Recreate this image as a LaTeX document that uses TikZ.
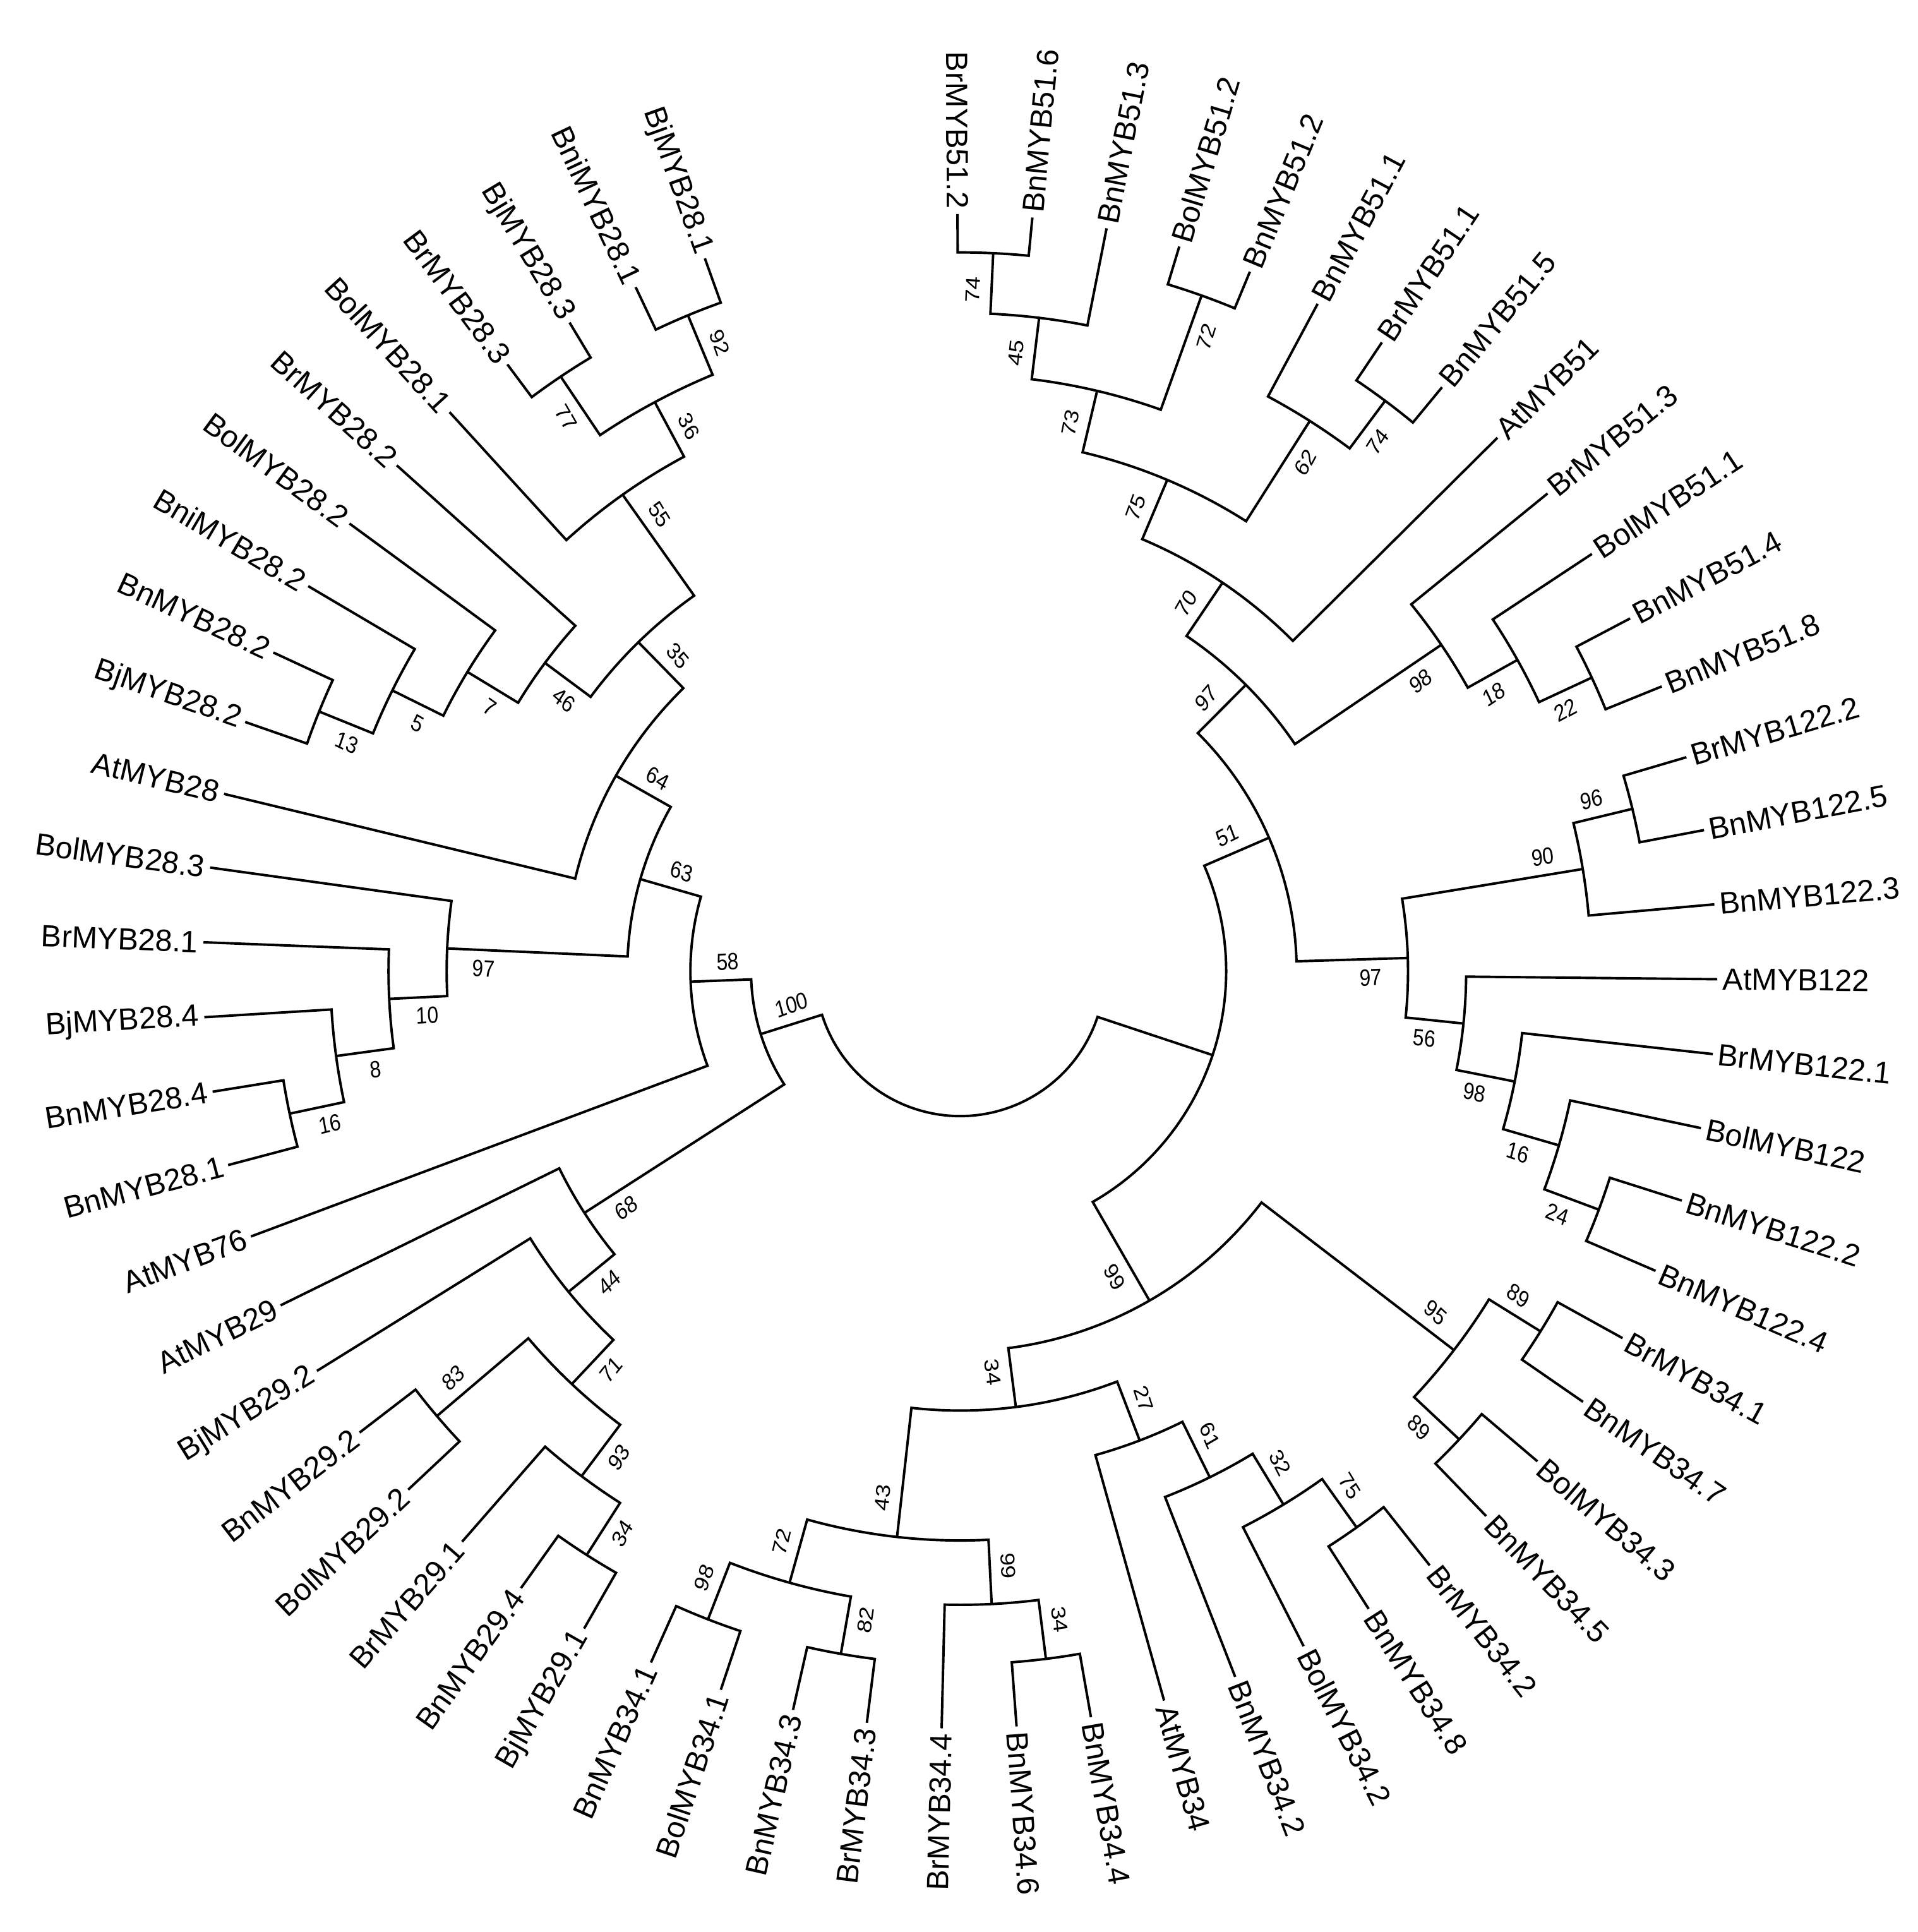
\documentclass[tikz,border=0pt]{standalone}
\usepackage{fontspec}
\setmainfont{Liberation Sans}
\tikzset{
  br/.style={line width=1pt,black},
  leaf/.style={font=\fontsize{12.4}{14}\selectfont,inner sep=2pt},
  bsn/.style={font=\fontsize{9.5}{11}\selectfont,inner sep=0pt,xscale=0.85}
}
\newcommand\lf[2]{%
  \pgfmathsetmacro\ang{90.2-(#1-1)*5.675}%
  \expandafter\xdef\csname Al#1\endcsname{\ang}%
  \expandafter\xdef\csname Rl#1\endcsname{612}%
  \expandafter\xdef\csname Bl#1\endcsname{}%
  \coordinate (l#1) at (\ang:306pt);%
  \pgfmathsetmacro\cosv{cos(\ang)}%
  \ifdim\cosv pt<0pt
    \pgfmathsetmacro\rot{\ang+180}%
    \node[leaf,anchor=east,rotate=\rot] (t#1) at (\ang:306pt) {#2};%
  \else
    \node[leaf,anchor=west,rotate=\ang] (t#1) at (\ang:306pt) {#2};%
  \fi}
\newcommand\bs[2]{%
  \edef\bt{\csname B#1\endcsname}%
  \ifx\bt\empty\else
    \edef\ca{\csname A#1\endcsname}\edef\crr{\csname R#1\endcsname}%
    \pgfmathsetmacro\prr{(\crr-30)*0.5}%
    \pgfmathsetmacro\pa{\ca+#2*15/(\crr-30)*57.2958}%
    \pgfmathsetmacro\cosv{cos(\ca)}%
    \ifdim\cosv pt<0pt \pgfmathsetmacro\rot{\ca+180}\else\pgfmathsetmacro\rot{\ca}\fi
    \node[bsn,rotate=\rot] at (\pa:\prr pt) {\bt};%
  \fi}
\newcommand\nd[5]{%
  \edef\angA{\csname A#2\endcsname}\edef\angB{\csname A#3\endcsname}%
  \pgfmathsetmacro\am{(\angA+\angB)/2}%
  \expandafter\xdef\csname A#1\endcsname{\am}%
  \expandafter\xdef\csname R#1\endcsname{#4}%
  \expandafter\xdef\csname B#1\endcsname{#5}%
  \pgfmathsetmacro\rh{#4*0.5}%
  \coordinate (#1) at (\am:\rh pt);%
  \draw[br] (#2) -- (\angA:\rh pt) arc[start angle=\angA, end angle=\angB, radius=\rh pt] -- (#3);%
  \bs{#2}{1}\bs{#3}{-1}}
\begin{document}
\begin{tikzpicture}
\useasboundingbox (-388pt,-388.2pt) rectangle (387pt,392.5pt);
\lf{1}{BrMYB51.2}\lf{2}{BnMYB51.6}\lf{3}{BnMYB51.3}\lf{4}{BolMYB51.2}
\lf{5}{BnMYB51.2}\lf{6}{BnMYB51.1}\lf{7}{BrMYB51.1}\lf{8}{BnMYB51.5}
\lf{9}{AtMYB51}\lf{10}{BrMYB51.3}\lf{11}{BolMYB51.1}\lf{12}{BnMYB51.4}
\lf{13}{BnMYB51.8}\lf{14}{BrMYB122.2}\lf{15}{BnMYB122.5}\lf{16}{BnMYB122.3}
\lf{17}{AtMYB122}\lf{18}{BrMYB122.1}\lf{19}{BolMYB122}\lf{20}{BnMYB122.2}
\lf{21}{BnMYB122.4}\lf{22}{BrMYB34.1}\lf{23}{BnMYB34.7}\lf{24}{BolMYB34.3}
\lf{25}{BnMYB34.5}\lf{26}{BrMYB34.2}\lf{27}{BnMYB34.8}\lf{28}{BolMYB34.2}
\lf{29}{BnMYB34.2}\lf{30}{AtMYB34}\lf{31}{BnMYB34.4}\lf{32}{BnMYB34.6}
\lf{33}{BrMYB34.4}\lf{34}{BrMYB34.3}\lf{35}{BnMYB34.3}\lf{36}{BolMYB34.1}
\lf{37}{BnMYB34.1}\lf{38}{BjMYB29.1}\lf{39}{BnMYB29.4}\lf{40}{BrMYB29.1}
\lf{41}{BolMYB29.2}\lf{42}{BnMYB29.2}\lf{43}{BjMYB29.2}\lf{44}{AtMYB29}
\lf{45}{AtMYB76}\lf{46}{BnMYB28.1}\lf{47}{BnMYB28.4}\lf{48}{BjMYB28.4}
\lf{49}{BrMYB28.1}\lf{50}{BolMYB28.3}\lf{51}{AtMYB28}\lf{52}{BjMYB28.2}
\lf{53}{BnMYB28.2}\lf{54}{BniMYB28.2}\lf{55}{BolMYB28.2}\lf{56}{BrMYB28.2}
\lf{57}{BolMYB28.1}\lf{58}{BrMYB28.3}\lf{59}{BjMYB28.3}\lf{60}{BniMYB28.1}
\lf{61}{BjMYB28.1}
% group 51/122
\nd{aa74}{l1}{l2}{581}{74}
\nd{aa45}{aa74}{l3}{532}{45}
\nd{aa72}{l4}{l5}{580}{72}
\nd{aa73}{aa45}{aa72}{482}{73}
\nd{bb74}{l7}{l8}{575}{74}
\nd{aa62}{l6}{bb74}{527}{62}
\nd{aa75}{aa73}{aa62}{431}{75}
\nd{aa70}{aa75}{l9}{379}{70}
\nd{aa22}{l12}{l13}{563}{22}
\nd{aa18}{l11}{aa22}{516}{18}
\nd{aa98}{l10}{aa18}{470}{98}
\nd{aa97}{aa70}{aa98}{327}{97}
\nd{aa96}{l14}{l15}{559}{96}
\nd{aa90}{aa96}{l16}{510}{90}
\nd{aa24}{l20}{l21}{551}{24}
\nd{aa16}{l19}{aa24}{504}{16}
\nd{bb98}{l18}{aa16}{457}{98}
\nd{aa56}{l17}{bb98}{409}{56}
\nd{bb97}{aa90}{aa56}{362}{97}
\nd{aa51}{aa97}{bb97}{272}{51}
% group 34
\nd{aa89}{l22}{l23}{552}{89}
\nd{bb89}{l24}{l25}{553}{89}
\nd{aa95}{aa89}{bb89}{503}{95}
\nd{cc75}{l26}{l27}{552}{75}
\nd{aa32}{cc75}{l28}{504}{32}
\nd{aa61}{aa32}{l29}{456}{61}
\nd{aa27}{aa61}{l30}{406}{27}
\nd{bb34}{l31}{l32}{560}{34}
\nd{bb99}{bb34}{l33}{512}{99}
\nd{aa82}{l34}{l35}{560}{82}
\nd{cc98}{l36}{l37}{562}{98}
\nd{cc72}{aa82}{cc98}{513}{72}
\nd{aa43}{bb99}{cc72}{460}{43}
\nd{aa34}{aa27}{aa43}{355}{34}
\nd{aa99}{aa95}{aa34}{307}{99}
\nd{xx}{aa51}{aa99}{215}{}
% group 29
\nd{cc34}{l38}{l39}{560}{34}
\nd{aa93}{cc34}{l40}{510}{93}
\nd{aa83}{l41}{l42}{555}{83}
\nd{aa71}{aa93}{aa83}{458}{71}
\nd{aa44}{aa71}{l43}{409}{44}
\nd{aa68}{aa44}{l44}{361}{68}
% group 28
\nd{cc16}{l46}{l47}{554}{16}
\nd{aa8}{cc16}{l48}{509}{8}
\nd{aa10}{aa8}{l49}{462}{10}
\nd{cc97}{aa10}{l50}{415}{97}
\nd{aa13}{l52}{l53}{559}{13}
\nd{aa5}{aa13}{l54}{512}{5}
\nd{aa7}{aa5}{l55}{466}{7}
\nd{aa46}{aa7}{l56}{418}{46}
\nd{aa77}{l58}{l59}{579}{77}
\nd{aa92}{l60}{l61}{574}{92}
\nd{aa36}{aa77}{aa92}{522}{36}
\nd{aa55}{l57}{aa36}{472}{55}
\nd{aa35}{aa46}{aa55}{372}{35}
\nd{aa64}{l51}{aa35}{320}{64}
\nd{aa63}{cc97}{aa64}{269}{63}
\nd{aa58}{l45}{aa63}{218}{58}
\nd{aa100}{aa68}{aa58}{169}{100}
\nd{root}{xx}{aa100}{117}{}
\end{tikzpicture}
\end{document}
